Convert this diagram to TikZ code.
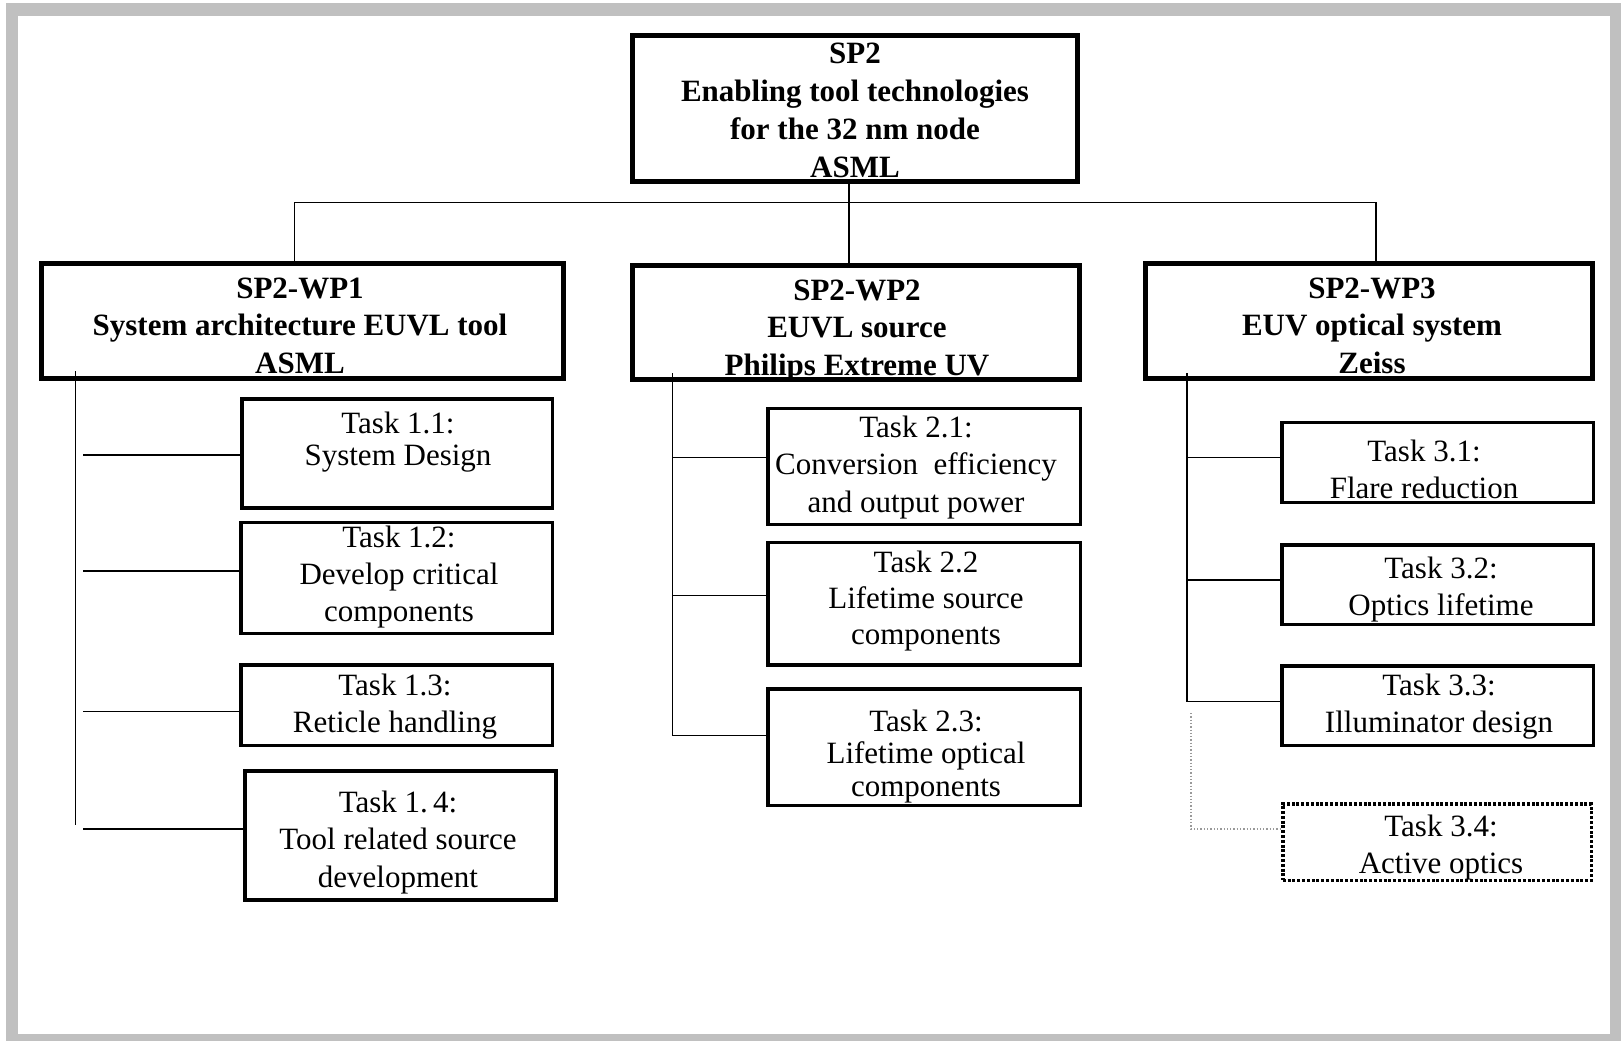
\documentclass[tikz,border=0pt]{standalone}
\usepackage{fontspec}
\setmainfont{Liberation Serif}
\definecolor{framegrey}{RGB}{192,192,192}
\begin{document}
\begin{tikzpicture}[x=1pt,y=-1pt]
\tikzset{
  hbox/.style={draw, line width=5pt, inner sep=0pt},
  tbox/.style={draw, line width=3.5pt, inner sep=0pt},
  dbox/.style={draw, line width=3.5pt, dash pattern=on 3pt off 1.8pt, inner sep=0pt},
  conn/.style={line width=1.5pt},
  dconn/.style={line width=1.3pt, dotted, color=gray!80},
  htext/.style={anchor=base, align=center, inner sep=0pt, font=\bfseries\fontsize{31}{38}\selectfont},
  ttext/.style={anchor=base, align=center, inner sep=0pt, font=\fontsize{31}{37}\selectfont}
}
\useasboundingbox (0,0) rectangle (1621,1041);
% frame
\fill[framegrey] (6,3) rectangle (1621,1041);
\fill[white] (17.5,16) rectangle (1610,1034);

% boxes
\node[hbox, minimum width=445pt, minimum height=146pt] (sp2) at (855,108.5) {};
\node[hbox, minimum width=522.5pt, minimum height=115pt] (wp1) at (302.25,321) {};
\node[hbox, minimum width=447pt, minimum height=114pt] (wp2) at (856,322.5) {};
\node[hbox, minimum width=447pt, minimum height=115pt] (wp3) at (1369,321) {};

\node[tbox, minimum width=310.5pt, minimum height=109pt] (t11) at (397,453.25) {};
\node[tbox, minimum width=311.5pt, minimum height=110.8pt] (t12) at (396.5,577.85) {};
\node[tbox, minimum width=311.5pt, minimum height=80.5pt] (t13) at (396.5,705) {};
\node[tbox, minimum width=311pt, minimum height=128.9pt] (t14) at (400.3,835.5) {};

\node[tbox, minimum width=312.5pt, minimum height=115.8pt] (t21) at (924,466.35) {};
\node[tbox, minimum width=312.5pt, minimum height=122.5pt] (t22) at (924,603.7) {};
\node[tbox, minimum width=312.5pt, minimum height=116.5pt] (t23) at (924,747) {};

\node[tbox, minimum width=311.5pt, minimum height=79.8pt] (t31) at (1437.5,462.35) {};
\node[tbox, minimum width=311.5pt, minimum height=79.5pt] (t32) at (1437.5,584.5) {};
\node[tbox, minimum width=311.5pt, minimum height=79.5pt] (t33) at (1437.5,705.5) {};
\node[dbox, minimum width=308.5pt, minimum height=76.5pt] (t34) at (1437,842) {};

% connectors: top level
\coordinate (busL) at (294.6,202.7);
\coordinate (busM) at (849,202.7);
\coordinate (busR) at (1376,202.7);
\draw[conn] (busL |- wp1.north) -- (busL) -- (busR) -- (busR |- wp3.north);
\draw[conn] (busM |- sp2.south) -- (busM |- wp2.north);

% WP1 branches
\coordinate (v1top) at (75.5,371);
\coordinate (v1bot) at (75.5,825);
\draw[conn] (v1top) -- (v1bot);
\coordinate (b11) at (83.4,455);
\coordinate (b12) at (83.4,571);
\coordinate (b13) at (83.4,711.7);
\coordinate (b14) at (83.4,829);
\draw[conn] (b11) -- (b11 -| t11.west);
\draw[conn] (b12) -- (b12 -| t12.west);
\draw[conn] (b13) -- (b13 -| t13.west);
\draw[conn] (b14) -- (b14 -| t14.west);

% WP2 branches
\coordinate (v2top) at (672.7,373);
\coordinate (b21) at (672.7,457.7);
\coordinate (b22) at (672.7,595.7);
\coordinate (b23) at (672.7,735.7);
\draw[conn] (v2top) -- (b23) -- (b23 -| t23.west);
\draw[conn] (b21) -- (b21 -| t21.west);
\draw[conn] (b22) -- (b22 -| t22.west);

% WP3 branches
\coordinate (v3top) at (1187,373);
\coordinate (b31) at (1187,457.7);
\coordinate (b32) at (1187,580);
\coordinate (b33) at (1187,701.7);
\draw[conn] (v3top) -- (b33) -- (b33 -| t33.west);
\draw[conn] (b31) -- (b31 -| t31.west);
\draw[conn] (b32) -- (b32 -| t32.west);
\coordinate (d3top) at (1191,713);
\coordinate (b34) at (1191,829);
\draw[dconn] (d3top) -- (b34) -- (b34 -| t34.west);

% texts (anchor base = baseline of the last line)
\node[htext] (sp2t) at (855,177) {SP2\\Enabling tool technologies\\for the 32 nm node\\ASML};
\node[htext, font=\bfseries\fontsize{31}{37.5}\selectfont] (wp1t) at (300,373) {SP2-WP1\\System architecture EUVL tool\\ASML};
\node[htext, font=\bfseries\fontsize{31}{37.5}\selectfont] (wp2t) at (857,375) {SP2-WP2\\EUVL source\\Philips Extreme UV};
\node[htext, font=\bfseries\fontsize{31}{37.5}\selectfont] (wp3t) at (1372,373) {SP2-WP3\\EUV optical system\\Zeiss};

\node[ttext, font=\fontsize{31}{32}\selectfont] (t11t) at (398,465) {Task 1.1:\\System Design};
\node[ttext, font=\fontsize{31}{37}\selectfont] (t12t) at (399,621) {Task 1.2:\\Develop critical\\components};
\node[ttext, font=\fontsize{31}{37.7}\selectfont] (t13t) at (395,732.7) {Task 1.3:\\Reticle handling};
\node[ttext, font=\fontsize{31}{37.2}\selectfont] (t14t) at (398,887.1) {Task 1.\,4:\\Tool related source\\development};

\node[ttext, font=\fontsize{31}{37.5}\selectfont] (t21t) at (916,512) {Task 2.1:\\Conversion~ efficiency\\and output power};
\node[ttext, font=\fontsize{31}{36}\selectfont] (t22t) at (926,644.7) {Task 2.2\\Lifetime source\\components};
\node[ttext, font=\fontsize{31}{32.5}\selectfont] (t23t) at (926,796) {Task 2.3:\\Lifetime optical\\components};

\node[ttext, font=\fontsize{31}{36.3}\selectfont] (t31t) at (1424,498) {Task 3.1:\\Flare reduction};
\node[ttext, font=\fontsize{31}{36.7}\selectfont] (t32t) at (1441,615) {Task 3.2:\\Optics lifetime};
\node[ttext, font=\fontsize{31}{37.7}\selectfont] (t33t) at (1439,732.7) {Task 3.3:\\Illuminator design};
\node[ttext, font=\fontsize{31}{37.3}\selectfont] (t34t) at (1441,873.3) {Task 3.4:\\Active optics};
\end{tikzpicture}
\end{document}
